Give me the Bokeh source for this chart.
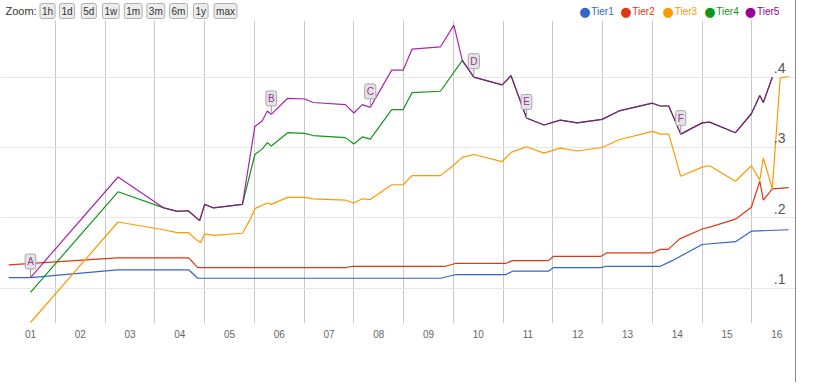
from bokeh.plotting import figure
from bokeh.models import FixedTicker, Label, BoxAnnotation
from bokeh.core.properties import value
from bokeh.embed import file_html
from bokeh.resources import INLINE

# ---------------- data ----------------
tick_days = list(range(1, 17))
tick_labels = ["01", "02", "03", "04", "05", "06", "07", "08",
               "09", "10", "11", "12", "13", "14", "15", "16"]
y_ticks = [0.1, 0.2, 0.3, 0.4]
y_tick_labels = [".1", ".2", ".3", ".4"]

series_names = ["Tier1", "Tier2", "Tier3", "Tier4", "Tier5"]
series_colors = ["#3366cc", "#dc3912", "#ff9900", "#109618", "#990099"]

tier1_x = [0.56, 1.0, 2.75, 4.18, 4.36, 9.24, 9.54, 10.55, 10.69, 11.41, 11.51,
           12.46, 12.58, 13.66, 13.90, 14.50, 15.17, 15.49, 16.24]
tier1_y = [0.115, 0.115, 0.126, 0.126, 0.114, 0.114, 0.119, 0.119, 0.124, 0.124, 0.129,
           0.129, 0.131, 0.131, 0.139, 0.162, 0.166, 0.181, 0.183]

tier2_x = [0.56, 2.75, 4.18, 4.36, 7.33, 7.47, 9.34, 9.54, 10.55, 10.69, 11.41, 11.51,
           12.46, 12.58, 13.50, 13.66, 13.82, 14.05, 14.50, 14.67, 15.17, 15.49,
           15.66, 15.73, 15.91, 16.24]
tier2_y = [0.133, 0.143, 0.143, 0.129, 0.129, 0.131, 0.131, 0.135, 0.135, 0.139, 0.139, 0.145,
           0.145, 0.150, 0.150, 0.155, 0.155, 0.170, 0.184, 0.187, 0.198, 0.215,
           0.252, 0.225, 0.241, 0.243]

tier3_x = [1.0, 2.76, 3.67, 3.95, 4.17, 4.35, 4.42, 4.50, 4.68, 5.26, 5.41, 5.51,
           5.76, 5.84, 6.17, 6.51, 6.68, 7.33, 7.50, 7.67, 7.83, 8.26, 8.49, 8.67,
           9.24, 9.51, 9.68, 9.91, 10.48, 10.66, 10.97, 11.32, 11.65, 11.99, 12.49,
           12.83, 13.50, 13.66, 13.83, 14.07, 14.50, 14.65, 15.17, 15.49, 15.66,
           15.73, 15.91, 16.07, 16.24]
tier3_y = [0.051, 0.194, 0.183, 0.179, 0.179, 0.168, 0.165, 0.177, 0.175, 0.178, 0.197, 0.213,
           0.221, 0.219, 0.229, 0.229, 0.227, 0.225, 0.221, 0.227, 0.226, 0.247, 0.247, 0.260,
           0.260, 0.275, 0.286, 0.290, 0.280, 0.293, 0.301, 0.292, 0.299, 0.295, 0.300,
           0.311, 0.323, 0.319, 0.319, 0.259, 0.272, 0.274, 0.252, 0.274, 0.254,
           0.285, 0.241, 0.399, 0.401]

tier4_x = [1.0, 2.76, 3.68, 3.95, 4.17, 4.40, 4.50, 4.68, 5.26, 5.51, 5.66, 5.76,
           5.84, 6.17, 6.51, 6.68, 7.33, 7.50, 7.67, 7.83, 8.26, 8.49, 8.67, 9.24,
           9.68, 9.91, 10.48, 10.66, 10.97, 11.32, 11.65, 11.99, 12.49, 12.83, 13.50,
           13.66, 13.83, 14.07, 14.50, 14.65, 15.17, 15.49, 15.66, 15.73, 15.91]
tier4_y = [0.094, 0.237, 0.214, 0.209, 0.210, 0.196, 0.219, 0.214, 0.219, 0.290, 0.298, 0.307,
           0.302, 0.321, 0.320, 0.317, 0.314, 0.305, 0.315, 0.312, 0.354, 0.354, 0.378, 0.380,
           0.424, 0.400, 0.389, 0.402, 0.342, 0.332, 0.339, 0.335, 0.340, 0.352, 0.363,
           0.359, 0.359, 0.319, 0.335, 0.336, 0.321, 0.348, 0.374, 0.364, 0.400]

tier5_x = [1.0, 2.76, 3.68, 3.95, 4.17, 4.40, 4.50, 4.68, 5.26, 5.51, 5.66, 5.76,
           5.84, 6.17, 6.51, 6.68, 7.33, 7.50, 7.67, 7.83, 8.26, 8.49, 8.67, 9.24,
           9.51, 9.68, 9.91, 10.48, 10.66, 10.97, 11.32, 11.65, 11.99, 12.49, 12.83,
           13.50, 13.66, 13.83, 14.07, 14.50, 14.65, 15.17, 15.49, 15.66, 15.73, 15.91]
tier5_y = [0.115, 0.258, 0.214, 0.209, 0.210, 0.196, 0.219, 0.214, 0.219, 0.330, 0.338, 0.352,
           0.347, 0.370, 0.369, 0.364, 0.361, 0.349, 0.361, 0.357, 0.410, 0.410, 0.440, 0.443,
           0.474, 0.424, 0.400, 0.389, 0.402, 0.342, 0.332, 0.339, 0.335, 0.340, 0.352,
           0.363, 0.359, 0.359, 0.319, 0.335, 0.336, 0.321, 0.348, 0.374, 0.364, 0.400]

annot_letters = ["A", "B", "C", "D", "E", "F"]
annot_index = [0, 12, 19, 26, 29, 38]   # points of Tier5 carrying the flags

zoom_buttons = ["1h", "1d", "5d", "1w", "1m", "3m", "6m", "1y", "max"]

# ---------------- layout constants ----------------
X_START, X_END = 0.397, 16.377
Y_START, Y_END = 0.0496, 0.5091
HEADER_BOTTOM = 0.4807
FRAME_H = 323
FONT = "Liberation Sans"

p = figure(width=796, height=382, x_range=(X_START, X_END), y_range=(Y_START, Y_END),
           output_backend="svg", toolbar_location=None, y_axis_location=None,
           min_border_left=0, min_border_right=1, min_border_top=0, min_border_bottom=59)
p.styles = {"border-right": "1px solid #8a8a8a"}
p.outline_line_color = None
p.background_fill_color = "white"
p.border_fill_color = "white"

# grid
p.xgrid.ticker = FixedTicker(ticks=[d + 0.5 for d in tick_days[:-1]])
p.xgrid.grid_line_color = "#c8c8c8"
p.ygrid.ticker = FixedTicker(ticks=y_ticks)
p.ygrid.grid_line_color = "#e6e6e6"

# x axis
p.xaxis.ticker = FixedTicker(ticks=tick_days)
p.xaxis.major_label_overrides = {d: lab for d, lab in zip(tick_days, tick_labels)}
p.xaxis.axis_line_color = None
p.xaxis.major_tick_line_color = None
p.xaxis.minor_tick_line_color = None
p.xaxis.major_label_standoff = 0
p.xaxis.major_label_text_font = FONT
p.xaxis.major_label_text_font_size = "10px"
p.xaxis.major_label_text_color = "#666666"

# lines
all_x = [tier1_x, tier2_x, tier3_x, tier4_x, tier5_x]
all_y = [tier1_y, tier2_y, tier3_y, tier4_y, tier5_y]
alphas = [1.0, 1.0, 1.0, 1.0, 0.85]
for xs, ys, col, a in zip(all_x, all_y, series_colors, alphas):
    p.line(xs, ys, line_color=col, line_width=1.2, line_alpha=a)

# y tick labels inside the plot on the right
p.text(x=[X_END] * len(y_ticks), y=y_ticks, text=y_tick_labels,
       text_font=value(FONT), text_font_size="14px", text_color="#555555",
       text_align="right", text_baseline="alphabetic", x_offset=-10, y_offset=-9)

# annotation flags
ppu = FRAME_H / (Y_END - Y_START)
stem = 10 / ppu
ax = [tier5_x[i] for i in annot_index]
ay = [tier5_y[i] for i in annot_index]
p.segment(x0=ax, y0=ay, x1=ax, y1=[v + stem for v in ay], line_color="#999999", line_width=1)
for letter, xv, yv in zip(annot_letters, ax, ay):
    p.add_layout(Label(x=xv, y=yv, y_offset=16, text=letter, text_font=FONT,
                       text_font_size="10px", text_color="#993399",
                       text_align="center", text_baseline="middle",
                       background_fill_color="#e4e4e4", border_line_color="#a8a8a8",
                       border_radius=2, padding=2))

# header band (white, above the gridded area)
p.add_layout(BoxAnnotation(bottom=HEADER_BOTTOM, fill_color="white", fill_alpha=1.0,
                           line_color=None))

HEADER_Y = FRAME_H - 10.5
p.add_layout(Label(x=5, y=HEADER_Y, x_units="screen", y_units="screen", text="Zoom:",
                   text_font=FONT, text_font_size="11px", text_color="#333333",
                   text_align="left", text_baseline="middle"))
button_centers = [47, 66.5, 88.3, 110.3, 132.7, 155.3, 178, 200.3, 225]
for lab, cx in zip(zoom_buttons, button_centers):
    p.add_layout(Label(x=cx, y=HEADER_Y, x_units="screen", y_units="screen", text=lab,
                       text_font=FONT, text_font_size="10px", text_color="#333333",
                       text_align="center", text_baseline="middle",
                       background_fill_color="#ececec", border_line_color="#b0b0b0",
                       border_radius=2, padding=2))

# header: legend
dot_x = [584.3, 625.3, 667.7, 709.3, 750]
for name, col, dx in zip(series_names, series_colors, dot_x):
    p.add_layout(Label(x=dx, y=HEADER_Y, x_units="screen", y_units="screen", text="\u25cf",
                       text_font="DejaVu Sans", text_font_size="13px", text_color=col,
                       text_align="center", text_baseline="middle"))
    p.add_layout(Label(x=dx + 6.5, y=HEADER_Y, x_units="screen", y_units="screen", text=name,
                       text_font=FONT, text_font_size="10px", text_color=col,
                       text_align="left", text_baseline="middle"))

open("out.html", "w").write(file_html(p, INLINE))
